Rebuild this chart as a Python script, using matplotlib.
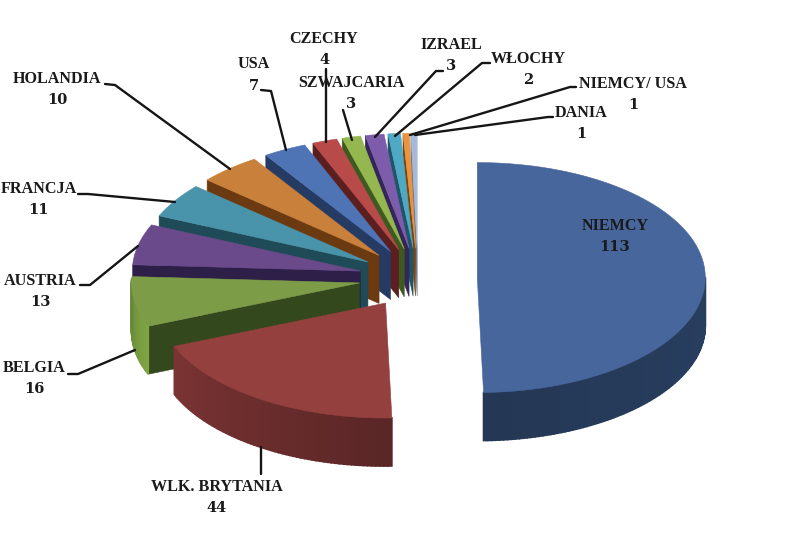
import numpy as np
import matplotlib
matplotlib.use("Agg")
import matplotlib.pyplot as plt
from matplotlib.colors import to_rgb

names = ["NIEMCY", "WLK. BRYTANIA", "BELGIA", "AUSTRIA", "FRANCJA", "HOLANDIA", "USA",
         "CZECHY", "SZWAJCARIA", "IZRAEL", "WŁOCHY", "NIEMCY/ USA", "DANIA"]
values = [113, 44, 16, 13, 11, 10, 7, 4, 3, 3, 2, 1, 1]
top_colors = ["#47669C", "#93403F", "#7D9C47", "#6B4A8C", "#4A94AB", "#C9803A", "#4F74B5",
              "#B84A4A", "#94B84F", "#7D5CAB", "#4FA8C4", "#EB9440", "#A8B8D8"]
cut_colors = ["#263C5E", "#5A2323", "#34481D", "#2D1F47", "#1F4A57", "#6B3A10", "#253B63",
              "#5C1F1F", "#3F5A20", "#35265A", "#1F5568", "#7A4510", "#707A90"]
wall_colors = ["#2A4163", "#6E2E2E", "#76993F", "#5A3E78", "#3C7A8C", "#8A5A20", "#34538A",
               "#8A3535", "#6E8A3A", "#5A4080", "#3A7F95", "#B0702F", "#8090B0"]

# label text anchor (centre x, name y, value y) and leader polylines
label_pos = [(615, 226, 247), (217, 487, 508), (34, 368, 389), (40, 281, 302), (39, 189, 210),
             (57, 79, 100), (254, 64, 86), (324, 39, 60), (351, 83, 104), (451, 45, 66),
             (528, 59, 80), (633, 84, 105), (581, 113, 134)]
leaders = [None,
           [(261, 447), (261, 474)],
           [(135, 350), (78, 374), (68, 374)],
           [(138, 246), (90, 285), (80, 285)],
           [(175, 202), (88, 194), (78, 194)],
           [(230, 169), (115, 85), (105, 84)],
           [(286, 150), (271, 91), (261, 90)],
           [(326, 142), (326, 69)],
           [(352, 140), (343, 110)],
           [(375, 137), (436, 71), (443, 71)],
           [(395, 136), (482, 63), (490, 63)],
           [(410, 135), (570, 87), (576, 87)],
           [(415, 135), (548, 117), (553, 117)]]

CX, CY = 418.0, 278.0
RX, RY = 228.0, 115.0
DEPTH = 48.0
EXPLODE = 0.26

fig = plt.figure(figsize=(8.0, 5.44), dpi=100)
ax = fig.add_axes([0, 0, 1, 1])
ax.set_xlim(0, 800)
ax.set_ylim(544, 0)
ax.axis("off")

total = sum(values)
edges = np.concatenate([[0], np.cumsum(values)]) / total * 2 * np.pi

# Back to front: the small top slices first, the big front slices last
for i in range(len(values) - 1, -1, -1):
    a0, a1 = edges[i], edges[i + 1]
    mid = (a0 + a1) / 2
    ax0 = CX + np.sin(mid) * RX * EXPLODE
    ay0 = CY - np.cos(mid) * RY * EXPLODE
    th = np.linspace(a0, a1, max(int(np.degrees(a1 - a0)), 4))
    px = ax0 + np.sin(th) * RX
    py = ay0 - np.cos(th) * RY
    z = 100 - i * 3

    # radial cut face facing the viewer
    if i >= 2:
        q = [(ax0, ay0), (px[0], py[0]), (px[0], py[0] + DEPTH), (ax0, ay0 + DEPTH)]
        ax.fill(*zip(*q), color=cut_colors[i], lw=0.4, zorder=z)

    # outer wall (lower half only), shaded in strips
    base = np.array(to_rgb(wall_colors[i]))
    for k in range(len(th) - 1):
        if np.cos(th[k]) > 0.02:
            continue
        t = k / max(len(th) - 1, 1)
        shade = 0.82 + 0.3 * t if i == 1 else 1.08 - 0.22 * t
        c = np.clip(base * shade, 0, 1)
        q = [(px[k], py[k]), (px[k + 1], py[k + 1]),
             (px[k + 1], py[k + 1] + DEPTH), (px[k], py[k] + DEPTH)]
        ax.fill(*zip(*q), color=c, lw=1.2, zorder=z)

    # top face
    ax.fill(np.r_[ax0, px], np.r_[ay0, py], color=top_colors[i], lw=0.4, zorder=z + 1)

    if leaders[i] is not None:
        ax.plot(*zip(*leaders[i]), color="#151515", lw=1.7, solid_capstyle="round", zorder=150)

for n, v, (x, y1, y2) in zip(names, values, label_pos):
    ax.text(x, y1, n, ha="center", va="center", family=["Liberation Serif", "DejaVu Serif"],
            weight="bold", fontsize=11.6, color="#1a1a1a", zorder=200)
    ax.text(x, y2, str(v), ha="center", va="center", family="DejaVu Serif",
            weight="bold", fontsize=10.5, color="#1a1a1a", zorder=200)

fig.savefig("out.png", dpi=100, facecolor="white")
